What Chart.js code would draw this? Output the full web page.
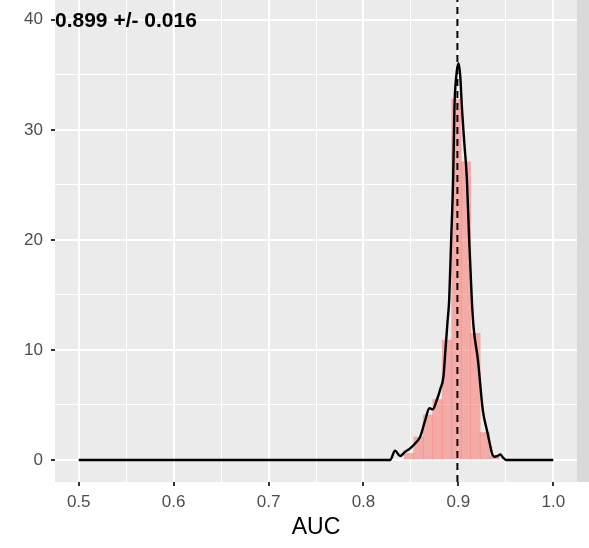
<!DOCTYPE html>
<html>
<head>
<meta charset="utf-8">
<script src="https://cdn.jsdelivr.net/npm/chart.js@4/dist/chart.umd.min.js"></script>
<style>
  html, body { margin: 0; padding: 0; background: #ffffff; }
  #wrap { width: 589px; height: 548px; position: relative; }
</style>
</head>
<body>
<div id="wrap"><canvas id="c" width="589" height="548"></canvas></div>
<script>
// ---- data ----
const binCenters = [0.848, 0.858, 0.868, 0.878, 0.888, 0.898, 0.908, 0.918, 0.928, 0.938];
const binHeights = [0.6, 2.1, 4.1, 5.5, 10.9, 32.8, 27.1, 11.5, 2.5, 0.4];

const densityX = [0.5, 0.8281, 0.8333, 0.8386, 0.8439, 0.8492, 0.8544, 0.8597, 0.8650, 0.8695,
  0.8731, 0.8773, 0.8808, 0.8843, 0.8864, 0.8887, 0.8903, 0.8924, 0.8945, 0.8959, 0.8977,
  0.9001, 0.9019, 0.9037, 0.9061, 0.9090, 0.9114, 0.9142, 0.9161, 0.9206, 0.9258, 0.9301,
  0.9336, 0.9354, 0.9378, 0.9409, 0.9441, 0.9473, 0.9504, 1.0];
const densityY = [0, 0, 0.85, 0.36, 0.75, 1.06, 1.5, 2.1, 3.6, 4.7,
  4.6, 5.45, 6.4, 7.6, 10, 12.7, 14.5, 20, 25.5, 32.1, 34.8,
  36.06, 35, 32.1, 29, 25.5, 20, 14.5, 12, 9.1, 4.5, 2.7,
  1.3, 0.6, 0.3, 0.35, 0.5, 0.2, 0, 0];

const meanAUC = 0.899;
const sdAUC = 0.016;

const xMajorTicks = [0.5, 0.6, 0.7, 0.8, 0.9, 1.0];
const xMinorTicks = [0.55, 0.65, 0.75, 0.85, 0.95];
const yMajorTicks = [0, 10, 20, 30, 40];
const yMinorTicks = [5, 15, 25, 35];

const xRange = [0.475, 1.025];
const yRange = [-2, 41.8];

// ---- helpers ----
const isMajor = (v, list) => list.some(t => Math.abs(t - v) < 1e-9);
const allX = xMajorTicks.concat(xMinorTicks).sort((a, b) => a - b);
const allY = yMajorTicks.concat(yMinorTicks).sort((a, b) => a - b);

const panelPlugin = {
  id: 'panel',
  beforeDraw(chart) {
    const { ctx, chartArea: a } = chart;
    ctx.save();
    ctx.fillStyle = '#ffffff';
    ctx.fillRect(0, 0, chart.width, chart.height);
    ctx.fillStyle = '#EBEBEB';
    ctx.fillRect(a.left, a.top, a.right - a.left, a.bottom - a.top);
    // facet strip on the right (mostly cut off)
    ctx.fillStyle = '#D9D9D9';
    ctx.fillRect(a.right, 0, chart.width - a.right, a.bottom);
    ctx.restore();
  },
  afterDatasetsDraw(chart) {
    const { ctx } = chart;
    const y = chart.scales.y.getPixelForValue(40);
    const x = chart.chartArea.left;
    ctx.save();
    ctx.fillStyle = '#000000';
    ctx.font = 'bold 21px "Liberation Sans", Arial, sans-serif';
    ctx.textBaseline = 'middle';
    ctx.textAlign = 'left';
    ctx.fillText(meanAUC.toFixed(3) + ' +/- ' + sdAUC.toFixed(3), x, y + 1);
    ctx.restore();
  }
};

const tickFont = { family: '"Liberation Sans", Arial, sans-serif', size: 17 };

new Chart(document.getElementById('c'), {
  data: {
    datasets: [
      {
        type: 'line',
        data: densityX.map((x, i) => ({ x, y: densityY[i] })),
        borderColor: '#000000',
        borderWidth: 2.4,
        pointRadius: 0,
        cubicInterpolationMode: 'monotone',
        fill: false,
        order: 1
      },
      {
        type: 'line',
        data: [{ x: meanAUC, y: yRange[0] }, { x: meanAUC, y: yRange[1] }],
        borderColor: '#000000',
        borderWidth: 2,
        borderDash: [7, 5],
        pointRadius: 0,
        fill: false,
        order: 0
      },
      {
        type: 'bar',
        data: binCenters.map((x, i) => ({ x, y: binHeights[i] })),
        backgroundColor: 'rgba(248,118,109,0.55)',
        borderWidth: 0,
        barPercentage: 1,
        categoryPercentage: 1,
        order: 3
      }
    ]
  },
  options: {
    responsive: false,
    animation: false,
    layout: { padding: { left: 0, right: 12, top: 0, bottom: 0 } },
    plugins: { legend: { display: false }, tooltip: { enabled: false } },
    scales: {
      x: {
        type: 'linear',
        offset: false,
        min: xRange[0],
        max: xRange[1],
        afterBuildTicks: s => { s.ticks = allX.map(v => ({ value: v })); },
        afterFit: s => { s.height = 66; s.paddingLeft = 0; s.paddingRight = 0; },
        border: { display: false },
        grid: {
          offset: false,
          color: '#ffffff',
          lineWidth: c => (c.tick && isMajor(c.tick.value, xMajorTicks)) ? 2 : 1,
          tickColor: c => (c.tick && isMajor(c.tick.value, xMajorTicks)) ? '#333333' : 'rgba(0,0,0,0)',
          tickWidth: 2,
          tickLength: 4
        },
        ticks: {
          autoSkip: false,
          maxRotation: 0,
          padding: 6,
          color: '#4D4D4D',
          font: tickFont,
          callback: v => isMajor(v, xMajorTicks) ? v.toFixed(1) : ''
        },
        title: {
          display: true,
          text: 'AUC',
          color: '#000000',
          font: { family: '"Liberation Sans", Arial, sans-serif', size: 23 },
          padding: { top: 0, bottom: 7 }
        }
      },
      y: {
        type: 'linear',
        min: yRange[0],
        max: yRange[1],
        afterBuildTicks: s => { s.ticks = allY.map(v => ({ value: v })); },
        afterFit: s => { s.width = 55; s.paddingTop = 0; s.paddingBottom = 0; },
        border: { display: false },
        grid: {
          color: '#ffffff',
          lineWidth: c => (c.tick && isMajor(c.tick.value, yMajorTicks)) ? 2 : 1,
          tickColor: c => (c.tick && isMajor(c.tick.value, yMajorTicks)) ? '#333333' : 'rgba(0,0,0,0)',
          tickWidth: 2,
          tickLength: 4
        },
        ticks: {
          autoSkip: false,
          padding: 8,
          color: '#4D4D4D',
          font: tickFont,
          callback: v => isMajor(v, yMajorTicks) ? String(v) : ''
        }
      }
    }
  },
  plugins: [panelPlugin]
});
</script>
</body>
</html>
